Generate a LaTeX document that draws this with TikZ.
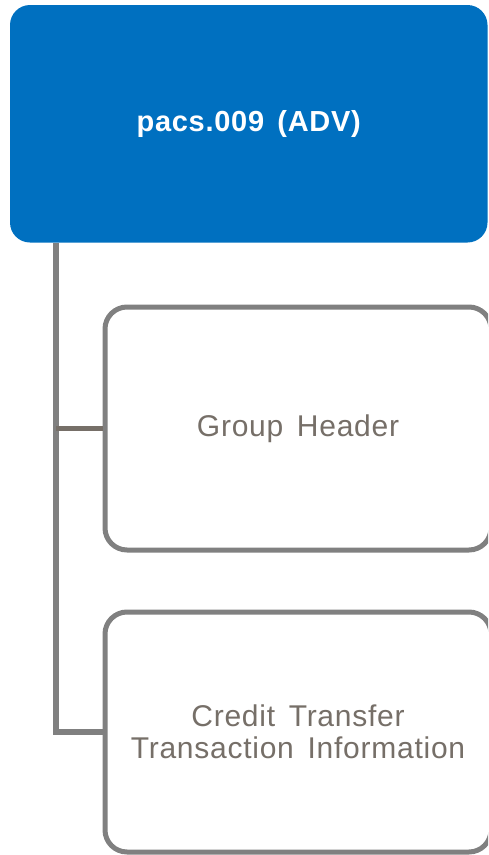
\documentclass[tikz,border=0pt]{standalone}
\usepackage{fontspec}
\setmainfont{Liberation Sans}[LetterSpace=2.5, WordSpace=1.5]
\definecolor{hdrblue}{RGB}{0,112,192}
\definecolor{boxgrey}{RGB}{128,128,128}
\definecolor{txtbrown}{RGB}{118,111,104}
\begin{document}
\begin{tikzpicture}[x=1pt,y=-1pt,
  header/.style={fill=hdrblue, draw=none, rounded corners=20pt, inner sep=0pt,
    minimum width=477.5pt, minimum height=237.5pt, text=white,
    font=\fontsize{29}{32}\selectfont\bfseries},
  childbox/.style={draw=boxgrey, fill=white, line width=5pt, rounded corners=22pt,
    inner sep=0pt, minimum width=386pt, text=txtbrown, align=center,
    font=\fontsize{30}{32}\selectfont},
  trunkline/.style={draw=boxgrey, line width=5.5pt, line join=miter},
  branchline/.style={draw=txtbrown, line width=5.5pt}]
\useasboundingbox (0,0) rectangle (488,855);
\clip (0,0) rectangle (488,855);
\node[header] (hdr) at (248.75,123.75) {pacs.009 (ADV)};
\node[childbox, minimum height=243pt] (gh) at (298,428.5) {Group Header};
\node[childbox, minimum height=240pt] (cti) at (298,732) {Credit Transfer\\Transaction Information};
\coordinate (trunk) at (56,242.5);
\draw[trunkline] (trunk) |- (cti.west);
\draw[branchline] (trunk |- gh.west) -- (gh.west);
\end{tikzpicture}
\end{document}
